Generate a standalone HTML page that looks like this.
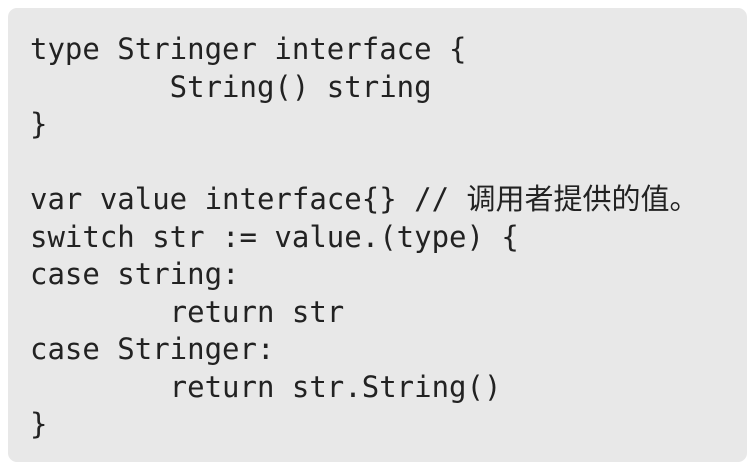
<!DOCTYPE html>
<html><head><meta charset="utf-8"><style>
html,body{margin:0;padding:0;background:#fff;width:747px;height:472px;overflow:hidden}
.box{position:absolute;left:8px;top:8px;width:739px;height:454px;background:#e8e8e8;border-radius:9px}
pre{position:absolute;left:30px;top:31px;margin:0;font-family:"DejaVu Sans Mono","Noto Sans CJK SC",monospace;font-size:29px;line-height:37.5px;color:#222;tab-size:8}
</style></head><body>
<div class="box"></div>
<pre>type Stringer interface {
        String() string
}

var value interface{} // 调用者提供的值。
switch str := value.(type) {
case string:
        return str
case Stringer:
        return str.String()
}</pre>
</body></html>
